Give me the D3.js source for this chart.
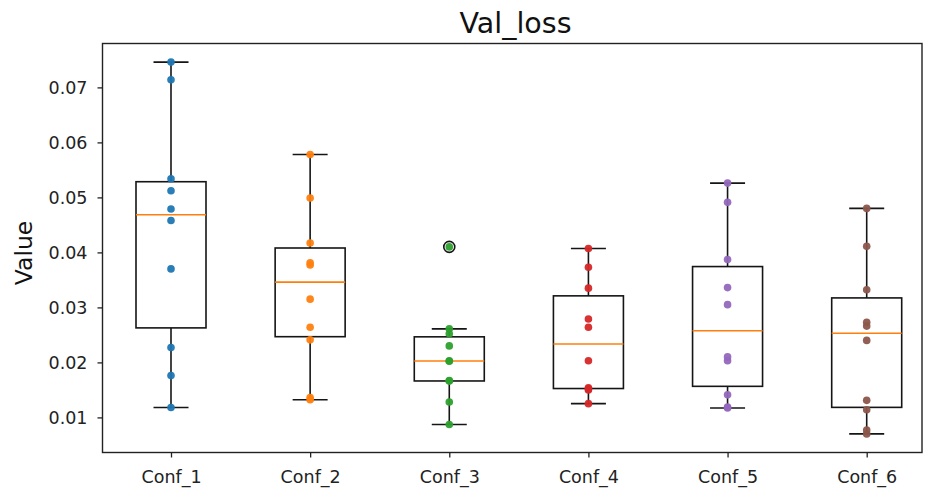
<!DOCTYPE html>
<html>
<head>
<meta charset="utf-8">
<script src="https://cdn.jsdelivr.net/npm/d3@7"></script>
<style>
  html, body { margin: 0; padding: 0; background: #fff; }
  svg { display: block; font-family: "DejaVu Sans", sans-serif; }
</style>
</head>
<body>
<svg id="chart" width="926" height="490"></svg>
<script>
// Validation loss per configuration (10 runs each)
const categories = ["Conf_1", "Conf_2", "Conf_3", "Conf_4", "Conf_5", "Conf_6"];
const conf1 = [0.0118, 0.0176, 0.0227, 0.0370, 0.0458, 0.0479, 0.0512, 0.0534, 0.0714, 0.0746];
const conf2 = [0.0132, 0.0136, 0.0241, 0.0264, 0.0315, 0.0377, 0.0381, 0.0417, 0.0499, 0.0578];
const conf3 = [0.0087, 0.0128, 0.0166, 0.0167, 0.0202, 0.0203, 0.0230, 0.0252, 0.0261, 0.0410];
const conf4 = [0.0125, 0.0150, 0.0152, 0.0154, 0.0203, 0.0264, 0.0279, 0.0335, 0.0373, 0.0407];
const conf5 = [0.0117, 0.0119, 0.0141, 0.0203, 0.0210, 0.0305, 0.0336, 0.0387, 0.0491, 0.0526];
const conf6 = [0.0070, 0.0077, 0.0114, 0.0131, 0.0240, 0.0266, 0.0273, 0.0332, 0.0411, 0.0480];
const seriesValues = [conf1, conf2, conf3, conf4, conf5, conf6];
const pointColors = ["#1f77b4", "#ff7f0e", "#2ca02c", "#d62728", "#9467bd", "#8c564b"];
const yTicks = [0.01, 0.02, 0.03, 0.04, 0.05, 0.06, 0.07];
const titleText = "Val_loss";
const yLabelText = "Value";

const FONT = "DejaVu Sans";
const svg = d3.select("#chart");
const frame = { left: 102.5, right: 922, top: 43.5, bottom: 452.5 };

// y range padded by 5% of the data span on each side
const allVals = seriesValues.flat();
const lo = d3.min(allVals), hi = d3.max(allVals);
const pad = (hi - lo) * 0.05;
const y = d3.scaleLinear().domain([lo - pad, hi + pad]).range([frame.bottom, frame.top]);

const x = d3.scalePoint().domain(categories).range([171, 866.7]);
const boxW = 70;
const capW = boxW / 2;
const LW = 1.6;

// box statistics (linear-interpolated quartiles, 1.5 IQR whiskers)
const stats = seriesValues.map((vals, i) => {
  const s = vals.slice().sort(d3.ascending);
  const q1 = d3.quantile(s, 0.25), med = d3.quantile(s, 0.5), q3 = d3.quantile(s, 0.75);
  const iqr = q3 - q1;
  const inside = s.filter(v => v >= q1 - 1.5 * iqr && v <= q3 + 1.5 * iqr);
  return {
    cat: categories[i], q1, med, q3,
    wLo: d3.min(inside), wHi: d3.max(inside),
    fliers: s.filter(v => v < q1 - 1.5 * iqr || v > q3 + 1.5 * iqr)
  };
});

// axes
const yAxis = d3.axisLeft(y).tickValues(yTicks).tickSize(5).tickPadding(10).tickFormat(d3.format(".2f"));
const gy = svg.append("g").attr("transform", `translate(${frame.left},0)`).call(yAxis)
  .attr("font-family", FONT).attr("font-size", 17.5);
gy.select(".domain").remove();
gy.selectAll("line").attr("stroke", "#222").attr("stroke-width", 1.3);
gy.selectAll("text").attr("fill", "#222");

const xAxis = d3.axisBottom(x).tickSize(5).tickPadding(13);
const gx = svg.append("g").attr("transform", `translate(0,${frame.bottom})`).call(xAxis)
  .attr("font-family", FONT).attr("font-size", 17.5);
gx.select(".domain").remove();
gx.selectAll("line").attr("stroke", "#222").attr("stroke-width", 1.3);
gx.selectAll("text").attr("fill", "#222");

// boxes
const gb = svg.append("g").selectAll("g").data(stats).join("g")
  .attr("stroke", "#151515").attr("stroke-width", LW);
gb.append("line")
  .attr("x1", d => x(d.cat)).attr("x2", d => x(d.cat))
  .attr("y1", d => y(d.wLo)).attr("y2", d => y(d.q1));
gb.append("line")
  .attr("x1", d => x(d.cat)).attr("x2", d => x(d.cat))
  .attr("y1", d => y(d.q3)).attr("y2", d => y(d.wHi));
gb.append("line")
  .attr("x1", d => x(d.cat) - capW / 2).attr("x2", d => x(d.cat) + capW / 2)
  .attr("y1", d => y(d.wLo)).attr("y2", d => y(d.wLo));
gb.append("line")
  .attr("x1", d => x(d.cat) - capW / 2).attr("x2", d => x(d.cat) + capW / 2)
  .attr("y1", d => y(d.wHi)).attr("y2", d => y(d.wHi));
gb.append("rect")
  .attr("x", d => x(d.cat) - boxW / 2).attr("width", boxW)
  .attr("y", d => y(d.q3)).attr("height", d => y(d.q1) - y(d.q3))
  .attr("fill", "none");
gb.append("line")
  .attr("x1", d => x(d.cat) - boxW / 2).attr("x2", d => x(d.cat) + boxW / 2)
  .attr("y1", d => y(d.med)).attr("y2", d => y(d.med))
  .attr("stroke", "#ff7f0e").attr("stroke-width", 1.6);
gb.selectAll("circle.flier").data(d => d.fliers.map(v => ({ cat: d.cat, v }))).join("circle")
  .attr("class", "flier")
  .attr("cx", d => x(d.cat)).attr("cy", d => y(d.v)).attr("r", 5.5)
  .attr("fill", "none");

// individual runs
const pts = seriesValues.flatMap((vals, i) => vals.map(v => ({ cat: categories[i], v, c: pointColors[i] })));
svg.append("g").selectAll("circle").data(pts).join("circle")
  .attr("cx", d => x(d.cat)).attr("cy", d => y(d.v)).attr("r", 3.8)
  .attr("fill", d => d.c).attr("fill-opacity", 0.95);

// frame
svg.append("rect")
  .attr("x", frame.left).attr("y", frame.top)
  .attr("width", frame.right - frame.left).attr("height", frame.bottom - frame.top)
  .attr("fill", "none").attr("stroke", "#222").attr("stroke-width", 1.4);

// title and axis label
svg.append("text").attr("x", 515.5).attr("y", 33).attr("text-anchor", "middle")
  .attr("font-size", "28.5px").attr("fill", "#111").text(titleText);
svg.append("text").attr("transform", "translate(32,253) rotate(-90)").attr("text-anchor", "middle")
  .attr("font-size", "23.5px").attr("fill", "#111").text(yLabelText);
</script>
</body>
</html>
